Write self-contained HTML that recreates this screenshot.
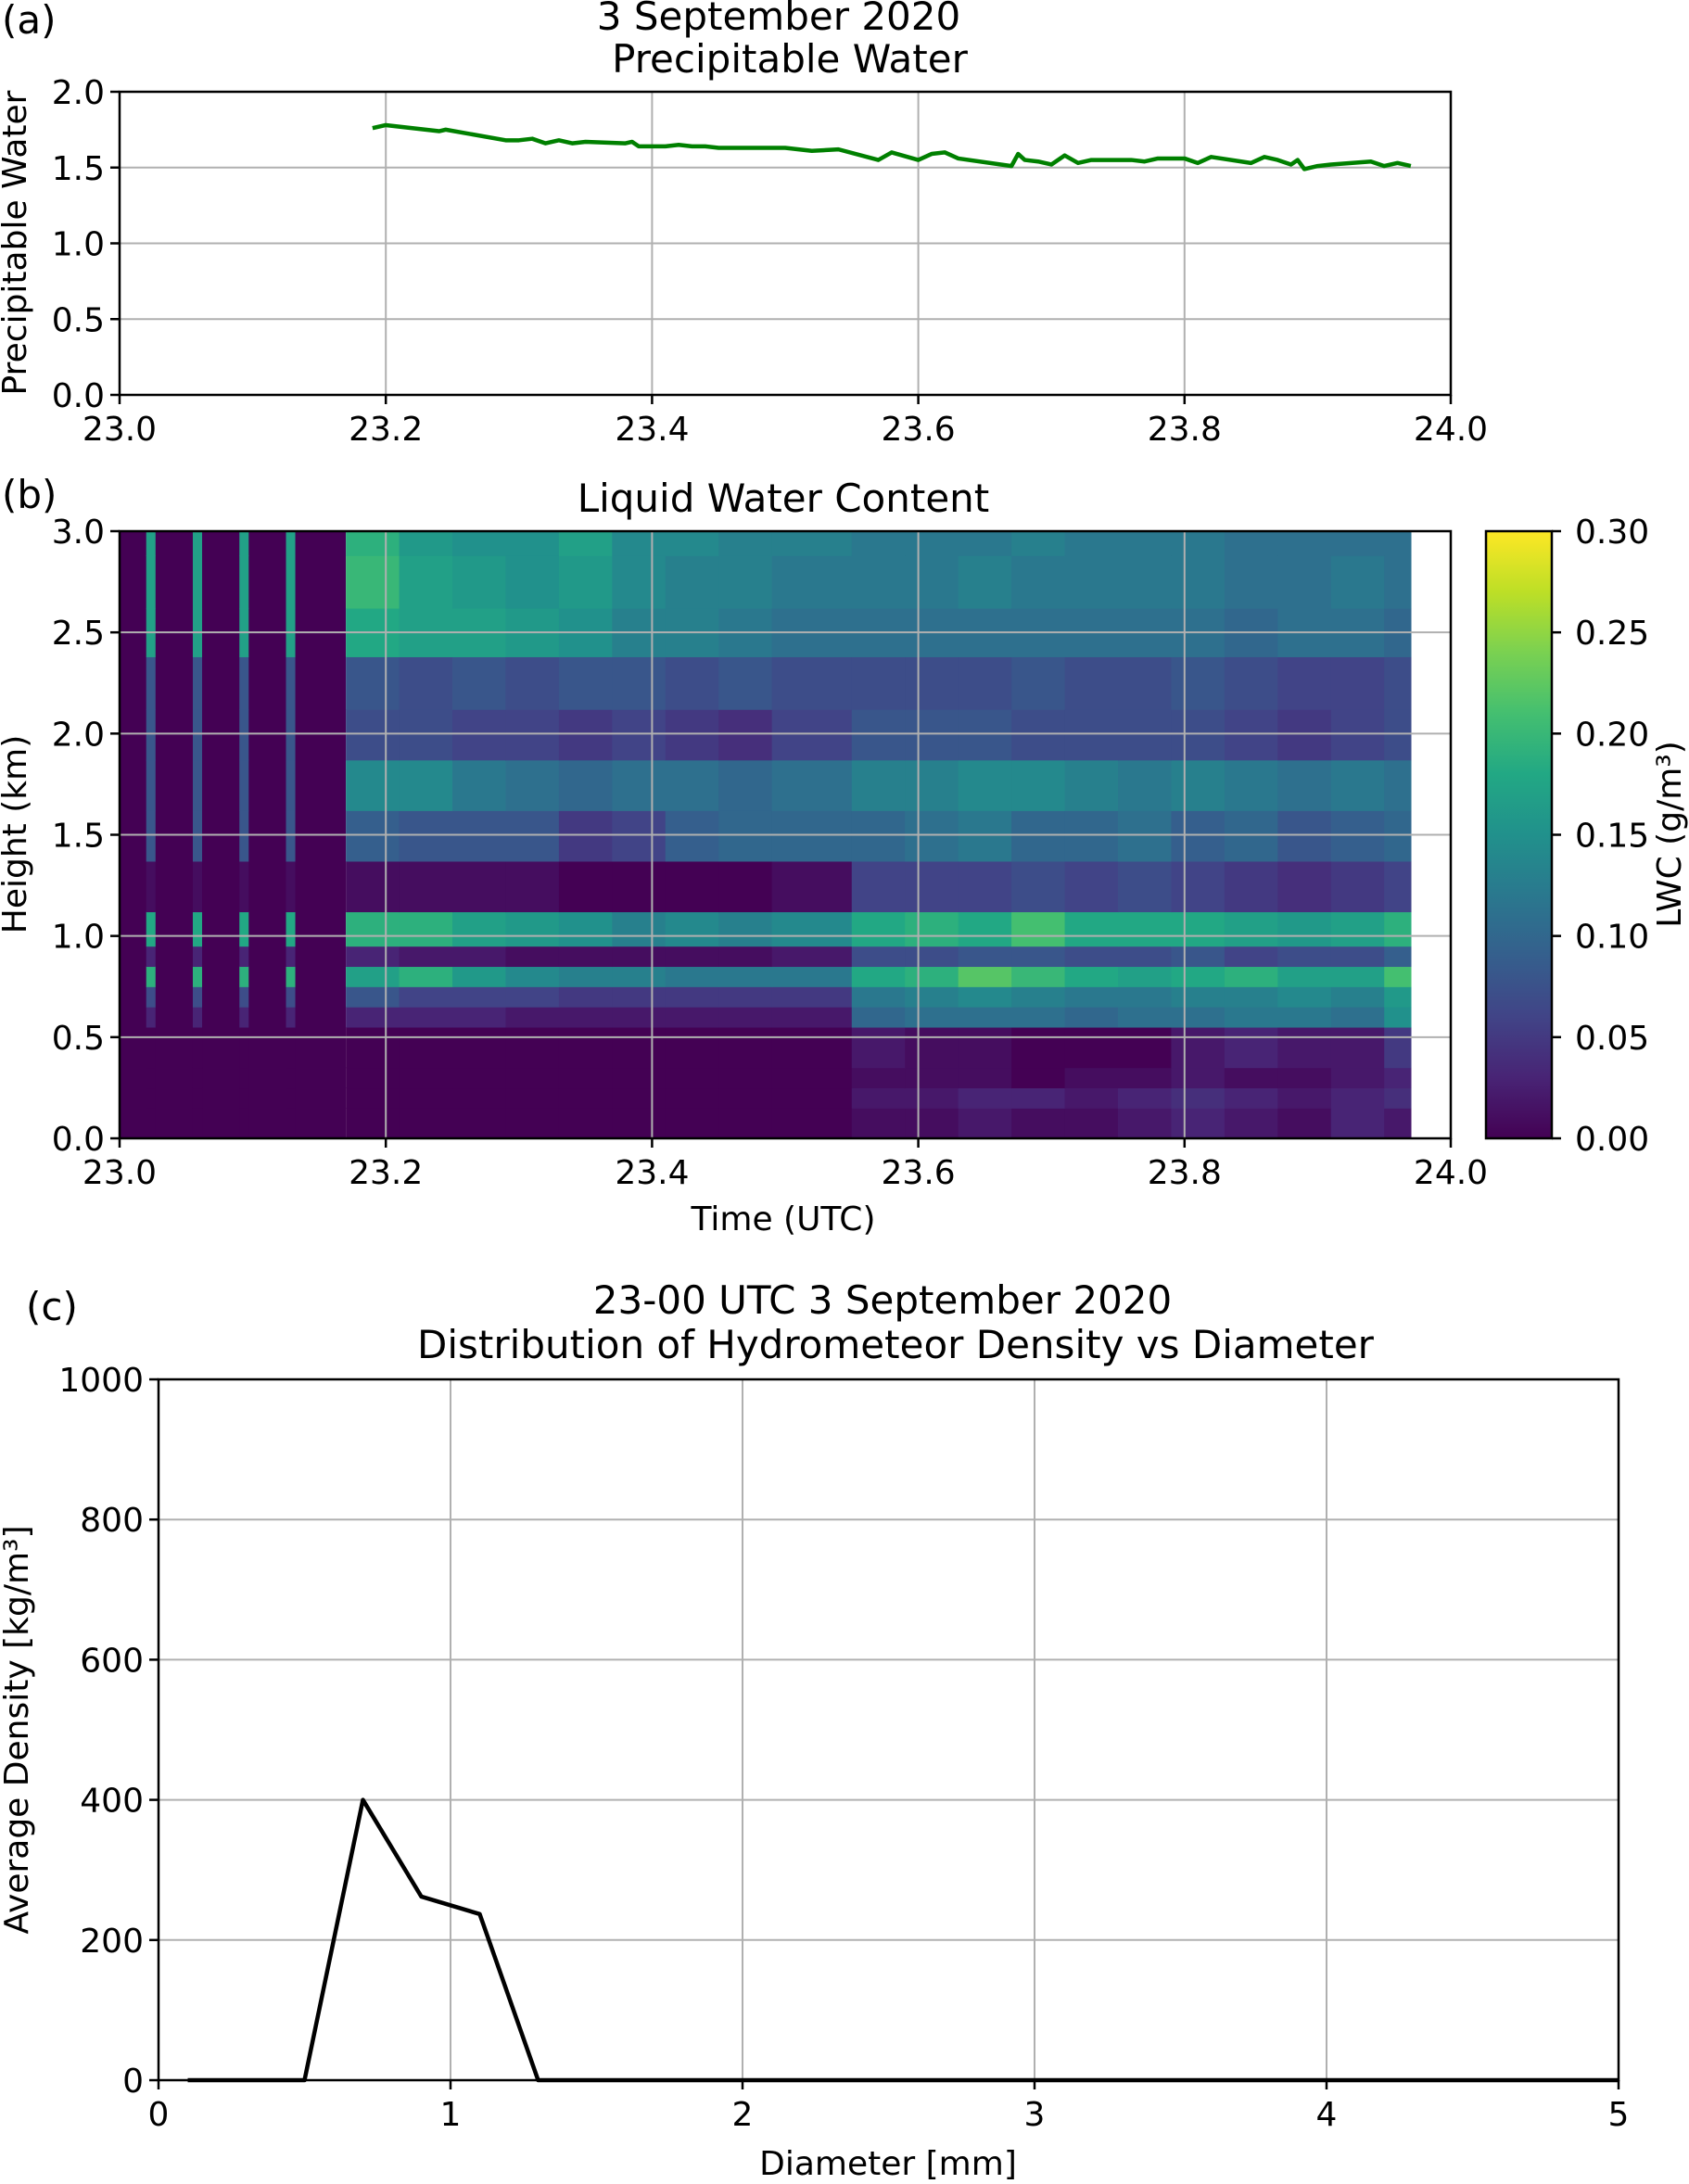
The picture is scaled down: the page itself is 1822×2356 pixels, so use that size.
<!DOCTYPE html>
<html><head><meta charset="utf-8"><style>
html,body{margin:0;padding:0;background:#fff}
svg text{font-family:"DejaVu Sans","Liberation Sans",sans-serif;fill:#000}
</style></head><body>
<svg id="fig" width="1822" height="2351" viewBox="0 0 1822 2351" xmlns="http://www.w3.org/2000/svg">
<defs>
<linearGradient id="vir" x1="0" y1="1" x2="0" y2="0">
<stop offset="0" stop-color="#440154"/><stop offset="0.1" stop-color="#482475"/><stop offset="0.2" stop-color="#414487"/><stop offset="0.3" stop-color="#355f8d"/><stop offset="0.4" stop-color="#2a788e"/><stop offset="0.5" stop-color="#21918c"/><stop offset="0.6" stop-color="#22a884"/><stop offset="0.7" stop-color="#44bf70"/><stop offset="0.8" stop-color="#7ad151"/><stop offset="0.9" stop-color="#bddf26"/><stop offset="1" stop-color="#fde725"/>
</linearGradient>
</defs>
<g id="pa"></g>
<g id="pb"></g>
<g id="pc"></g>
</svg>
<script>
// ---- Panel (a) data ----
const pwTimes = [23.19,23.2,23.22,23.24,23.245,23.29,23.3,23.31,23.32,23.33,23.34,23.35,23.38,23.385,23.39,23.41,23.42,23.43,23.44,23.45,23.5,23.52,23.54,23.57,23.58,23.6,23.61,23.62,23.63,23.67,23.675,23.68,23.69,23.70,23.71,23.72,23.73,23.76,23.77,23.78,23.8,23.81,23.82,23.85,23.86,23.87,23.88,23.885,23.89,23.9,23.91,23.94,23.95,23.96,23.97];
const pwValues = [1.76,1.78,1.76,1.74,1.75,1.68,1.68,1.69,1.66,1.68,1.66,1.67,1.66,1.67,1.64,1.64,1.65,1.64,1.64,1.63,1.63,1.61,1.62,1.55,1.6,1.55,1.59,1.6,1.56,1.51,1.59,1.55,1.54,1.52,1.58,1.53,1.55,1.55,1.54,1.56,1.56,1.53,1.57,1.53,1.57,1.55,1.52,1.55,1.49,1.51,1.52,1.54,1.51,1.53,1.51];
const timeTicks = [23.0,23.2,23.4,23.6,23.8,24.0];
const pwTicks = [0.0,0.5,1.0,1.5,2.0];

// ---- Panel (b) data ----
const heightEdges = [0,0.15,0.25,0.35,0.55,0.65,0.75,0.85,0.95,1.12,1.37,1.62,1.87,2.12,2.38,2.62,2.88,3.0];
const colStart = [23.17,23.21,23.25,23.29,23.33,23.37,23.41,23.45,23.49,23.55,23.59,23.63,23.67,23.71,23.75,23.79,23.83,23.87,23.91,23.95];
const colWidth = [0.04,0.04,0.04,0.04,0.04,0.04,0.04,0.04,0.06,0.04,0.04,0.04,0.04,0.04,0.04,0.04,0.04,0.04,0.04,0.02];
// rows listed bottom to top (one per height bin), 20 columns each
const lwcRows = [
 [0,0,0,0,0,0,0,0,0,0.01,0.01,0.02,0.01,0.01,0.02,0.03,0.02,0.01,0.03,0.02],
 [0,0,0,0,0,0,0,0,0,0.02,0.02,0.03,0.03,0.02,0.03,0.04,0.03,0.02,0.03,0.04],
 [0,0,0,0,0,0,0,0,0,0.01,0.01,0.01,0,0.01,0.01,0.02,0.01,0.01,0.02,0.03],
 [0,0,0,0,0,0,0,0,0,0.02,0.01,0.01,0,0,0,0.02,0.03,0.02,0.02,0.05],
 [0.03,0.03,0.03,0.02,0.02,0.02,0.02,0.02,0.02,0.1,0.11,0.11,0.11,0.1,0.11,0.11,0.12,0.12,0.11,0.15],
 [0.08,0.06,0.06,0.06,0.05,0.05,0.05,0.05,0.05,0.12,0.13,0.14,0.13,0.12,0.12,0.13,0.13,0.14,0.13,0.16],
 [0.17,0.19,0.16,0.14,0.13,0.13,0.12,0.12,0.12,0.18,0.19,0.22,0.2,0.18,0.17,0.18,0.19,0.17,0.17,0.21],
 [0.03,0.02,0.02,0.01,0.01,0.01,0.01,0.01,0.02,0.07,0.07,0.08,0.08,0.07,0.07,0.08,0.06,0.07,0.07,0.09],
 [0.19,0.19,0.17,0.16,0.15,0.13,0.14,0.13,0.14,0.18,0.19,0.18,0.21,0.18,0.18,0.18,0.17,0.16,0.17,0.19],
 [0.01,0.01,0.01,0.01,0.0,0.0,0.0,0.0,0.01,0.06,0.06,0.06,0.07,0.06,0.07,0.06,0.05,0.04,0.05,0.06],
 [0.09,0.08,0.08,0.08,0.05,0.06,0.09,0.1,0.1,0.1,0.11,0.12,0.1,0.1,0.11,0.09,0.1,0.08,0.09,0.1],
 [0.14,0.14,0.12,0.11,0.1,0.11,0.11,0.1,0.11,0.13,0.13,0.14,0.14,0.13,0.12,0.13,0.12,0.11,0.12,0.11],
 [0.07,0.07,0.06,0.06,0.05,0.06,0.05,0.04,0.06,0.08,0.08,0.08,0.07,0.07,0.07,0.07,0.06,0.05,0.06,0.07],
 [0.08,0.07,0.08,0.07,0.08,0.08,0.07,0.08,0.07,0.07,0.07,0.07,0.08,0.07,0.07,0.08,0.07,0.06,0.06,0.07],
 [0.18,0.17,0.17,0.16,0.15,0.13,0.13,0.12,0.11,0.11,0.11,0.11,0.11,0.11,0.11,0.11,0.1,0.11,0.11,0.1],
 [0.2,0.17,0.16,0.15,0.16,0.14,0.13,0.13,0.12,0.12,0.12,0.13,0.12,0.12,0.12,0.12,0.11,0.11,0.12,0.11],
 [0.19,0.16,0.15,0.15,0.17,0.14,0.14,0.13,0.13,0.12,0.12,0.12,0.13,0.12,0.12,0.12,0.11,0.11,0.11,0.11]
];
const stripeTimes = [23.02,23.055,23.09,23.125];
const stripeWidth = 0.007;
const stripeProfile = [0,0,0,0,0.03,0.07,0.19,0.03,0.18,0.01,0.08,0.08,0.08,0.08,0.17,0.17,0.17];
const heightTicks = [0.0,0.5,1.0,1.5,2.0,2.5,3.0];
const cbTicks = [0.00,0.05,0.10,0.15,0.20,0.25,0.30];

// ---- Panel (c) data ----
const diameters = [0.1,0.3,0.5,0.7,0.9,1.1,1.3,1.5,2.0,2.5,3.0,3.5,4.0,4.5,5.0];
const densities = [0,0,0,400,262,237,0,0,0,0,0,0,0,0,0];
const diamTicks = [0,1,2,3,4,5];
const densTicks = [0,200,400,600,800,1000];

const NS='http://www.w3.org/2000/svg';
const TICK=36, TITLE=42, LABEL=36;
function mk(parent,tag,attrs){const e=document.createElementNS(NS,tag);for(const k in attrs)e.setAttribute(k,attrs[k]);parent.appendChild(e);return e;}
function txt(parent,x,y,s,anchor,size,rot){const t=mk(parent,'text',{x:x,y:y,'text-anchor':anchor||'middle','font-size':size||TICK});if(rot)t.setAttribute('transform','rotate(-90 '+x+' '+y+')');t.textContent=s;return t;}
const vstops=[[68,1,84],[72,36,117],[65,68,135],[53,95,141],[42,120,142],[33,145,140],[34,168,132],[68,191,112],[122,209,81],[189,223,38],[253,231,37]];
function viridis(v){let t=Math.max(0,Math.min(1,v/0.3))*10;let i=Math.min(9,Math.floor(t));let f=t-i;const a=vstops[i],b=vstops[i+1];return 'rgb('+[0,1,2].map(k=>Math.round(a[k]+(b[k]-a[k])*f)).join(',')+')';}

function axesFrame(g,L,R,T,B,xt,xs,xfmt,yt,ys,yfmt){
  xt.forEach(v=>{const x=xs(v);const gl=mk(g,'line',{x1:x,x2:x,y1:T,y2:B,stroke:'#b0b0b0','stroke-width':2});
    
    mk(g,'line',{x1:x,x2:x,y1:B,y2:B+10,stroke:'#000','stroke-width':2.5});
    const t=txt(g,x,B+49,xfmt(v));});
  yt.forEach(v=>{const y=ys(v);const gl=mk(g,'line',{x1:L,x2:R,y1:y,y2:y,stroke:'#b0b0b0','stroke-width':2});
    
    mk(g,'line',{x1:L-10,x2:L,y1:y,y2:y,stroke:'#000','stroke-width':2.5});
    const t=txt(g,L-16,y+13,yfmt(v),'end');});
}
function spines(g,L,R,T,B){const r=mk(g,'rect',{x:L,y:T,width:R-L,height:B-T,fill:'none',stroke:'#000','stroke-width':2.5});}

// Panel a
(function(){
  const g=document.getElementById('pa');const L=129,R=1565,T=99,B=426;
  const xs=v=>L+(v-23)/(1)*(R-L), ys=v=>B-v/2*(B-T);
  axesFrame(g,L,R,T,B,timeTicks,xs,v=>v.toFixed(1),pwTicks,ys,v=>v.toFixed(1));
  const p=mk(g,'polyline',{points:pwTimes.map((t,i)=>xs(t)+','+ys(pwValues[i])).join(' '),fill:'none',stroke:'#008000','stroke-width':4.5,'stroke-linejoin':'round'});
  
  spines(g,L,R,T,B);
  let t=txt(g,2,36,'(a)','start',TITLE);
  t=txt(g,840,32,'3 September 2020','middle',TITLE);
  t=txt(g,852,78,'Precipitable Water','middle',TITLE);
  t=txt(g,28,262,'Precipitable Water','middle',LABEL,true);
})();

// Panel b
(function(){
  const g=document.getElementById('pb');const L=129,R=1565,T=573,B=1228;
  const xs=v=>L+(v-23)*(R-L), ys=v=>B-v/3*(B-T);
  const hm=mk(g,'g',{});
  mk(hm,'rect',{x:L,y:T,width:xs(23.17)-L,height:B-T,fill:viridis(0)});
  lwcRows.forEach((row,r)=>{row.forEach((v,c)=>{
    const x0=xs(colStart[c]),x1=xs(colStart[c]+colWidth[c]),y0=ys(heightEdges[r+1]),y1=ys(heightEdges[r]);
    const cell=mk(hm,'rect',{x:x0,y:y0,width:x1-x0+0.6,height:y1-y0+0.6,fill:viridis(v)});
    });});
  stripeTimes.forEach(st=>{stripeProfile.forEach((v,r)=>{
    const x0=xs(st),x1=xs(st+stripeWidth),y0=ys(heightEdges[r+1]),y1=ys(heightEdges[r]);
    const cell=mk(hm,'rect',{x:x0,y:y0,width:x1-x0,height:y1-y0+0.6,fill:viridis(v)});
    });});
  timeTicks.forEach(v=>{const x=xs(v);mk(g,'line',{x1:x,x2:x,y1:T,y2:B,stroke:'#b0b0b0','stroke-width':2});
    mk(g,'line',{x1:x,x2:x,y1:B,y2:B+10,stroke:'#000','stroke-width':2.5});
    const t=txt(g,x,B+49,v.toFixed(1));});
  heightTicks.forEach(v=>{const y=ys(v);mk(g,'line',{x1:L,x2:R,y1:y,y2:y,stroke:'#b0b0b0','stroke-width':2});
    mk(g,'line',{x1:L-10,x2:L,y1:y,y2:y,stroke:'#000','stroke-width':2.5});
    const t=txt(g,L-16,y+13,v.toFixed(1),'end');});
  spines(g,L,R,T,B);
  let t=txt(g,2,548,'(b)','start',TITLE);
  t=txt(g,845,552,'Liquid Water Content','middle',TITLE);
  t=txt(g,845,1327,'Time (UTC)','middle',LABEL);
  t=txt(g,28,900,'Height (km)','middle',LABEL,true);
  const cb=mk(g,'g',{});
  const CL=1603,CR=1674;mk(cb,'rect',{x:CL,y:T,width:CR-CL,height:B-T,fill:'url(#vir)',stroke:'#000','stroke-width':2.5});
  cbTicks.forEach(v=>{const y=B-v/0.3*(B-T);mk(cb,'line',{x1:CR,x2:CR+10,y1:y,y2:y,stroke:'#000','stroke-width':2.5});
    const t=txt(cb,1699,y+13,v.toFixed(2),'start');});
  t=txt(g,1813,900,'LWC (g/m³)','middle',LABEL,true);
})();

// Panel c
(function(){
  const g=document.getElementById('pc');const L=171,R=1746,T=1488,B=2244;
  const xs=v=>L+v/5*(R-L), ys=v=>B-v/1000*(B-T);
  axesFrame(g,L,R,T,B,diamTicks,xs,v=>String(v),densTicks,ys,v=>String(v));
  const p=mk(g,'polyline',{points:diameters.map((d,i)=>xs(d)+','+ys(densities[i])).join(' '),fill:'none',stroke:'#000','stroke-width':4.5,'stroke-linejoin':'round'});
  
  spines(g,L,R,T,B);
  let t=txt(g,28,1424,'(c)','start',TITLE);
  t=txt(g,952,1417,'23-00 UTC 3 September 2020','middle',TITLE);
  t=txt(g,966,1465,'Distribution of Hydrometeor Density vs Diameter','middle',TITLE);
  t=txt(g,958,2346,'Diameter [mm]','middle',LABEL);
  t=txt(g,30,1866,'Average Density [kg/m³]','middle',LABEL,true);
})();
</script>
</body></html>
